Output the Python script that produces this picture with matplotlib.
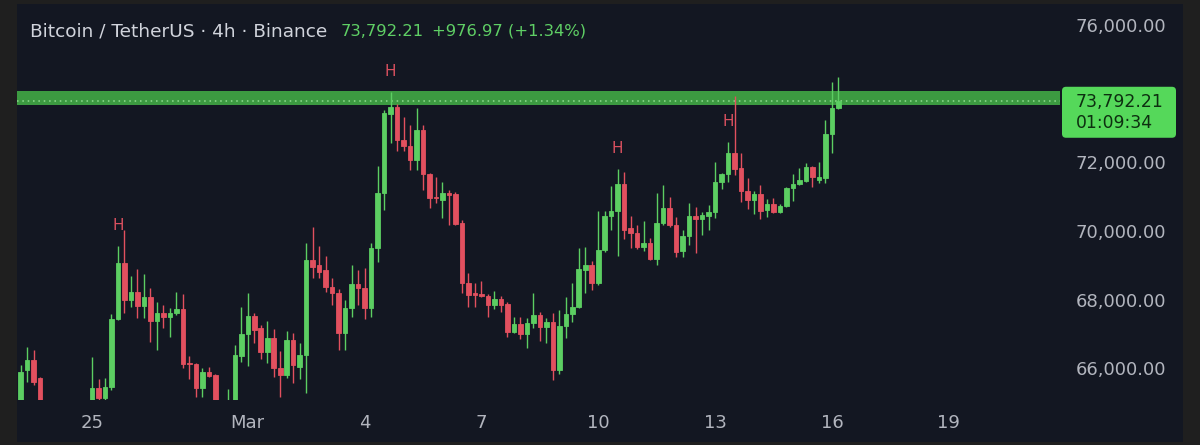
import matplotlib
matplotlib.use("Agg")
import matplotlib.pyplot as plt
import matplotlib.dates as mdates
from matplotlib.patches import FancyBboxPatch, Rectangle
from matplotlib.transforms import IdentityTransform
import pandas as pd

# ---------------- data ----------------
start_time = "2026-02-23 04:00"
interval = "4h"

opens = [65050, 65950, 66241, 65717, 65050, 64800, 64600, 64850, 64700, 64900, 64750,
         64950, 65426, 65130, 65455, 67436, 69067, 67989, 68222, 67814, 68076,
         67378, 67611, 67494, 67611, 67727, 66154, 66125, 65426, 65892, 65800,
         65000, 64900, 65050, 66360, 66998, 67523, 67173, 66475, 66882, 66008,
         65804, 66823, 66040, 66387, 69154, 69000, 68850, 68368, 68193, 67027,
         67756, 68455, 68339, 67756, 69504, 71106, 73420, 73611, 72650, 72475,
         72067, 72941, 71659, 70990, 70900, 71106, 71077, 70232, 68484, 68193,
         68150, 68110, 67843, 68018, 67870, 67057, 67290, 66998, 67319, 67552,
         67202, 67348, 65950, 67231, 67582, 67785, 68860, 69009, 68484, 69446,
         70436, 70582, 71368, 70086, 69941, 69533, 69650, 69183, 70232, 70669,
         70174, 69420, 69853, 70436, 70348, 70440, 70552, 71427, 71659, 72260,
         71830, 71164, 70902, 71077, 70600, 70786, 70552, 70727, 71240, 71368,
         71460, 71863, 71480, 71540, 72825, 73582]
highs = [66096, 66620, 66533, 65746, 65060, 64950, 64900, 65000, 64950, 65050, 65000,
         66329, 65688, 65717, 67582, 69562, 70028, 68688, 68892, 68745, 68339,
         67931, 67843, 67756, 68222, 68164, 66358, 66154, 66008, 66037, 65832,
         65050, 65390, 66678, 67785, 68193, 67611, 67261, 67378, 67144, 66504,
         67086, 67027, 66736, 69650, 70115, 69562, 69271, 68630, 68310, 67989,
         69009, 68863, 68921, 69650, 71892, 73524, 74048, 73699, 73320, 73087,
         73582, 73087, 71688, 71572, 71427, 71193, 71135, 70319, 68776, 68484,
         68543, 68164, 68251, 68106, 67931, 67494, 67494, 67465, 68193, 67640,
         67465, 67611, 67698, 68076, 68484, 69504, 69533, 69125, 70582, 70582,
         71310, 71805, 71718, 70436, 70174, 70290, 69795, 71106, 71339, 70990,
         70407, 70028, 70815, 70698, 70552, 70756, 72009, 71688, 72592, 73932,
         72272, 71543, 71164, 71339, 70931, 70960, 70786, 71281, 71659, 71834,
         71980, 71880, 72009, 73232, 74339, 74485]
lows = [64950, 65601, 65513, 64900, 64700, 64500, 64400, 64550, 64450, 64600, 64500,
        64900, 65000, 65050, 65367, 67400, 67611, 67785, 67465, 67465, 66765,
        66533, 67173, 66911, 67552, 66008, 65688, 65163, 65163, 65760, 64900,
        64700, 64800, 65000, 66183, 66066, 66736, 66271, 66154, 65746, 65163,
        65717, 65571, 65688, 65280, 68630, 68630, 68222, 67843, 66533, 66533,
        67494, 67843, 67436, 67494, 69096, 70611, 72563, 72330, 72330, 71776,
        71776, 71193, 70669, 70815, 70378, 70174, 70174, 68193, 67785, 67785,
        68076, 67494, 67727, 67640, 66911, 67027, 66853, 66591, 67173, 66794,
        66736, 65659, 65832, 66882, 67348, 67760, 68193, 68280, 68426, 69400,
        70028, 69271, 69766, 69504, 69475, 69417, 69154, 69009, 70174, 70115,
        69242, 69242, 69591, 69358, 69883, 70028, 70378, 71222, 71427, 71630,
        70844, 70640, 70494, 70348, 70407, 70523, 70523, 70690, 70873, 71330,
        71420, 71281, 71398, 71398, 72272, 73560]
closes = [65892, 66241, 65601, 65050, 64800, 64600, 64850, 64700, 64900, 64750, 64950,
          65426, 65130, 65455, 67436, 69067, 67989, 68222, 67814, 68076, 67378,
          67611, 67494, 67611, 67727, 66125, 66125, 65426, 65892, 65775, 65000,
          64900, 65050, 66387, 66998, 67523, 67115, 66475, 66882, 66008, 65804,
          66823, 66096, 66387, 69154, 68950, 68804, 68368, 68193, 67027, 67756,
          68455, 68339, 67756, 69504, 71106, 73436, 73611, 72650, 72475, 72067,
          72941, 71659, 70960, 70950, 71106, 71060, 70203, 68484, 68135, 68135,
          68110, 67843, 68018, 67843, 67057, 67290, 66998, 67319, 67552, 67202,
          67348, 65950, 67231, 67582, 67785, 68892, 69009, 68484, 69446, 70436,
          70582, 71368, 70028, 69941, 69533, 69650, 69183, 70232, 70669, 70174,
          69387, 69853, 70436, 70348, 70465, 70552, 71427, 71659, 72272, 71805,
          71164, 70902, 71077, 70582, 70786, 70552, 70727, 71252, 71368, 71485,
          71863, 71572, 71580, 72825, 73582, 73792.21]

pivot_high_idx = [15, 57, 92, 109]          # candles that carry an "H" label
resistance_zone = (73670, 74077)
last_price = 73792.21
countdown = "01:09:34"

# 74,000.00 is hidden behind the last-price box in the reference
y_ticks = [66000, 68000, 70000, 72000, 76000]
x_tick_dates = ["2026-02-25", "2026-03-01", "2026-03-04", "2026-03-07",
                "2026-03-10", "2026-03-13", "2026-03-16", "2026-03-19"]
x_tick_labels = ["25", "Mar", "4", "7", "10", "13", "16", "19"]

title_main = "Bitcoin / TetherUS \u00b7 4h \u00b7 Binance"
title_price = "73,792.21"
title_change = "+976.97 (+1.34%)"

# ---------------- style ----------------
UP = "#5cce62"
DOWN = "#e2505f"
BG = "#131722"
FRAME = "#1f1f1f"
TXT = "#b2b5be"

W, H = 1200, 445
fig = plt.figure(figsize=(W / 100, H / 100), dpi=100, facecolor=FRAME)

# panel
fig.add_artist(Rectangle((17 / W, 3 / H), (1183 - 17) / W, (441 - 3) / H,
                         transform=fig.transFigure, facecolor=BG,
                         edgecolor="none", zorder=0))

ax = fig.add_axes([17 / W, (H - 400) / H, (1060 - 17) / W, (400 - 4) / H])
ax.set_facecolor(BG)
for s in ax.spines.values():
    s.set_visible(False)

times = pd.date_range(start_time, periods=len(opens), freq=interval)
xs = mdates.date2num(times.to_pydatetime())
step = 4 / 24.0
width = step * 0.70

# resistance band + last price dotted line
ax.axhspan(resistance_zone[0], resistance_zone[1], color="#3c9a41", zorder=1, lw=0)
ax.axhline(last_price, color="#8fdc8f", lw=1.1, ls=(0, (1, 2.5)), zorder=1.5)

for x, o, h, l, c in zip(xs, opens, highs, lows, closes):
    col = UP if c >= o else DOWN
    ax.vlines(x, l, h, color=col, lw=1.0, zorder=3)
    ax.bar(x, abs(c - o), bottom=min(o, c), width=width, color=col,
           edgecolor=col, linewidth=0.6, zorder=4)

for i in pivot_high_idx:
    ax.annotate("H", xy=(xs[i], highs[i]), xytext=(0, 14.5),
                textcoords="offset points", ha="center", va="center",
                color="#d9505f", fontsize=11, zorder=5)

# limits
x0 = mdates.date2num(pd.Timestamp("2026-02-25").to_pydatetime())
ax.set_xlim(x0 - 11.56 * step, x0 + 149.15 * step)
ax.set_ylim(65076, 76611)

ax.set_xticks(mdates.date2num(pd.to_datetime(x_tick_dates).to_pydatetime()))
ax.set_xticklabels(x_tick_labels)
ax.yaxis.tick_right()
ax.set_yticks(y_ticks)
ax.set_yticklabels([f"{v:,.2f}" for v in y_ticks])
ax.tick_params(axis="both", length=0, colors=TXT, labelsize=13)
ax.tick_params(axis="y", pad=11)
ax.tick_params(axis="x", pad=10)

# header
fig.text(30 / W, 1 - 31 / H, title_main, color="#d1d4dc", fontsize=13.3,
         va="center", ha="left")
fig.text(341 / W, 1 - 31 / H, title_price, color="#5fcf65", fontsize=11.8,
         va="center", ha="left")
fig.text(432 / W, 1 - 31 / H, title_change, color="#5fcf65", fontsize=11.8,
         va="center", ha="left")

# last price box on the price axis
fig.canvas.draw()
yd = ax.transData.transform((xs[-1], last_price))[1]
box_top = yd + 14
box = FancyBboxPatch((1062, box_top - 51), 114, 51,
                     boxstyle="round,pad=0,rounding_size=4",
                     transform=IdentityTransform(), facecolor="#55d85a",
                     edgecolor="none", zorder=10)
fig.add_artist(box)
fig.text(1076, yd - 1, f"{last_price:,.2f}", transform=IdentityTransform(),
         color="#0d2f10", fontsize=12.4, va="center", ha="left", zorder=11)
fig.text(1076, yd - 22, countdown, transform=IdentityTransform(),
         color="#0d2f10", fontsize=12.4, va="center", ha="left", zorder=11)

fig.savefig("out.png", dpi=100, facecolor=FRAME)
